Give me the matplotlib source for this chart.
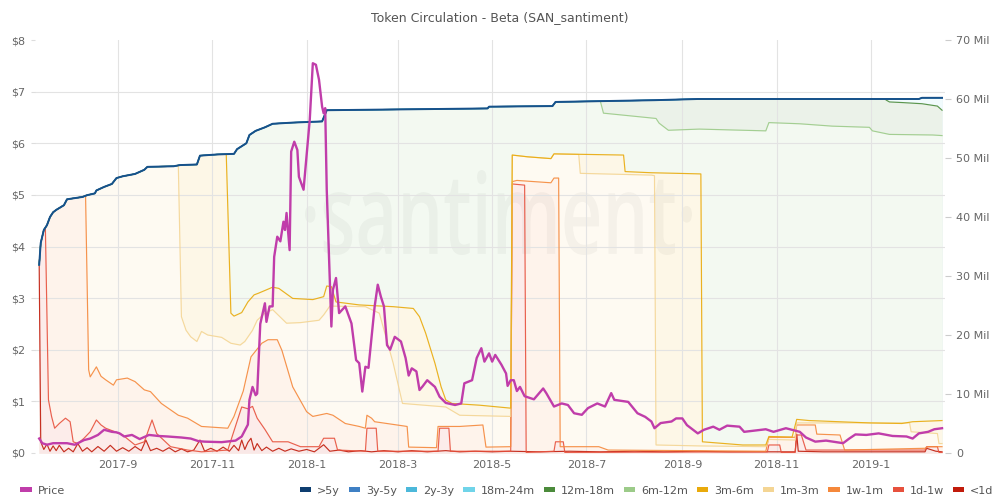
import matplotlib
matplotlib.use('Agg')
import matplotlib.pyplot as plt
import matplotlib.dates as mdates
import matplotlib.ticker as mticker
import matplotlib.transforms as mtransforms
from matplotlib.patches import Patch, PathPatch
from matplotlib.textpath import TextPath
from matplotlib.font_manager import FontProperties
from matplotlib.colors import to_rgb
import numpy as np
import pandas as pd

# ---------------- data ----------------
# total circulation (>5y, 3y-5y, 2y-3y, 18m-24m all equal this), in millions
total_dates = ['2017-07-12', '2017-07-13', '2017-07-15', '2017-07-17', '2017-07-19', '2017-07-21',
               '2017-07-23', '2017-07-28', '2017-07-30', '2017-08-09', '2017-08-12', '2017-08-17',
               '2017-08-18', '2017-08-23', '2017-08-28', '2017-08-31', '2017-09-04', '2017-09-12',
               '2017-09-18', '2017-09-20', '2017-10-07', '2017-10-11', '2017-10-22', '2017-10-24',
               '2017-11-04', '2017-11-15', '2017-11-17', '2017-11-23', '2017-11-25', '2017-11-29',
               '2017-12-05', '2017-12-10', '2017-12-23', '2018-01-11', '2018-01-14', '2018-04-28',
               '2018-04-29', '2018-06-09', '2018-06-11', '2018-08-14', '2018-09-11', '2019-02-01',
               '2019-02-03', '2019-02-16']
total_vals = [31.9, 35.6, 37.8, 38.6, 40.0, 40.8, 41.2, 42.0, 43.0, 43.4, 43.7, 44.0,
              44.5, 45.1, 45.6, 46.6, 46.9, 47.3, 48.0, 48.5, 48.6, 48.8, 48.9, 50.4,
              50.6, 50.7, 51.5, 52.5, 53.9, 54.6, 55.2, 55.8, 56.0, 56.2, 58.1, 58.4,
              58.7, 58.8, 59.5, 59.8, 60.0, 60.0, 60.2, 60.2]

# each narrower window equals the total until it departs from it
m12_18_start = '2019-01-10'
m12_18_dates = ['2019-01-10', '2019-01-11', '2019-01-13', '2019-01-21', '2019-02-03', '2019-02-13', '2019-02-16']
m12_18_vals = [60.0, 59.8, 59.5, 59.4, 59.2, 58.8, 58.1]

m6_12_start = '2018-07-10'
m6_12_dates = ['2018-07-10', '2018-07-12', '2018-07-31', '2018-08-15', '2018-08-17', '2018-08-23',
               '2018-09-12', '2018-10-25', '2018-10-27', '2018-11-16', '2018-12-07', '2018-12-31',
               '2019-01-02', '2019-01-13', '2019-02-10', '2019-02-16']
m6_12_vals = [59.6, 57.6, 57.1, 56.7, 55.9, 54.7, 54.9, 54.6, 56.0, 55.8, 55.4, 55.2,
              54.6, 54.0, 53.9, 53.8]

m3_6_start = '2017-11-10'
m3_6_dates = ['2017-11-10', '2017-11-13', '2017-11-15', '2017-11-20', '2017-11-24', '2017-11-28',
              '2017-12-01', '2017-12-10', '2017-12-14', '2017-12-23', '2018-01-05', '2018-01-12',
              '2018-01-14', '2018-01-17', '2018-01-20', '2018-02-04', '2018-02-26', '2018-03-11',
              '2018-03-15', '2018-03-19', '2018-03-25', '2018-03-29', '2018-04-01', '2018-04-05',
              '2018-04-23', '2018-05-13', '2018-05-14', '2018-05-24', '2018-06-08', '2018-06-10',
              '2018-07-25', '2018-07-26', '2018-08-12', '2018-08-29', '2018-09-13', '2018-09-14',
              '2018-10-10', '2018-10-25', '2018-10-27', '2018-11-11', '2018-11-14', '2018-11-22',
              '2018-12-31', '2019-01-21', '2019-01-28', '2019-02-16']
m3_6_vals = [50.65, 23.7, 23.2, 23.8, 25.6, 26.8, 27.1, 28.1, 27.9, 26.2, 26.0, 26.5,
             28.3, 28.2, 25.6, 25.1, 24.8, 24.5, 23.1, 20.3, 15.2, 11.2, 9.0, 8.4,
             8.1, 7.6, 50.5, 50.2, 49.9, 50.7, 50.5, 47.7, 47.5, 47.4, 47.3, 1.9,
             1.36, 1.36, 2.8, 2.7, 5.7, 5.5, 5.1, 5.0, 5.3, 5.5]

m1_3_start = '2017-10-10'
m1_3_dates = ['2017-10-10', '2017-10-12', '2017-10-15', '2017-10-18', '2017-10-22', '2017-10-25',
              '2017-10-29', '2017-11-07', '2017-11-13', '2017-11-19', '2017-11-22', '2017-11-27',
              '2017-11-30', '2017-12-05', '2017-12-10', '2017-12-19', '2017-12-28', '2018-01-09',
              '2018-01-12', '2018-01-16', '2018-02-08', '2018-02-17', '2018-02-26', '2018-03-04',
              '2018-04-01', '2018-04-10', '2018-05-13', '2018-05-14', '2018-05-24', '2018-06-08',
              '2018-06-10', '2018-06-26', '2018-06-27', '2018-08-12', '2018-08-14', '2018-08-15',
              '2018-09-12', '2018-10-25', '2018-10-27', '2018-11-13', '2018-11-14', '2019-01-26',
              '2019-01-27', '2019-02-13', '2019-02-14', '2019-02-16']
m1_3_vals = [48.7, 23.1, 20.8, 19.7, 18.9, 20.6, 20.0, 19.6, 18.6, 18.3, 18.9, 20.8,
             22.5, 23.7, 24.3, 22.0, 22.1, 22.5, 23.4, 24.9, 24.8, 23.7, 15.2, 8.4,
             7.8, 6.4, 6.2, 50.5, 50.2, 49.9, 50.7, 50.6, 47.4, 47.1, 47.0, 1.36,
             1.2, 1.07, 2.3, 2.2, 5.1, 5.1, 3.6, 3.3, 1.6, 1.6]

w1_m1_start = '2017-08-11'
w1_m1_dates = ['2017-08-11', '2017-08-13', '2017-08-14', '2017-08-18', '2017-08-21', '2017-08-24',
               '2017-08-29', '2017-08-31', '2017-09-07', '2017-09-12', '2017-09-18', '2017-09-22',
               '2017-09-29', '2017-10-10', '2017-10-16', '2017-10-25', '2017-11-11', '2017-11-15',
               '2017-11-21', '2017-11-26', '2017-12-03', '2017-12-07', '2017-12-13', '2017-12-16',
               '2017-12-23', '2018-01-01', '2018-01-05', '2018-01-14', '2018-01-18', '2018-01-26',
               '2018-02-04', '2018-02-08', '2018-02-09', '2018-02-12', '2018-02-14', '2018-03-07',
               '2018-03-08', '2018-03-26', '2018-03-27', '2018-04-10', '2018-04-25', '2018-04-27',
               '2018-05-13', '2018-05-14', '2018-05-17', '2018-06-08', '2018-06-10', '2018-06-13',
               '2018-06-14', '2018-07-09', '2018-07-15', '2018-10-25', '2018-10-27', '2018-11-13',
               '2018-11-14', '2018-11-26', '2018-11-27', '2018-12-12', '2018-12-15', '2019-02-05',
               '2019-02-07', '2019-02-16']
w1_m1_vals = [43.6, 14.1, 12.9, 14.6, 13.0, 12.4, 11.5, 12.4, 12.7, 12.1, 10.7, 10.4,
              8.4, 6.4, 5.9, 4.5, 4.2, 6.2, 10.5, 16.3, 18.6, 19.2, 19.2, 17.4,
              11.2, 7.0, 6.2, 6.7, 6.4, 5.0, 4.5, 4.2, 6.4, 5.9, 5.3, 4.5,
              1.0, 0.9, 4.5, 4.5, 4.75, 1.0, 1.07, 46.0, 46.2, 45.8, 46.6, 46.6,
              1.07, 1.07, 0.5, 0.3, 2.66, 2.66, 4.75, 4.75, 3.2, 3.05, 0.5, 0.8,
              1.07, 1.07]

d1_w1_start = '2017-07-16'
d1_w1_dates = ['2017-07-16', '2017-07-18', '2017-07-20', '2017-07-22', '2017-07-25', '2017-07-29',
               '2017-08-01', '2017-08-03', '2017-08-06', '2017-08-10', '2017-08-14', '2017-08-18',
               '2017-08-21', '2017-08-24', '2017-08-30', '2017-09-04', '2017-09-12', '2017-09-18',
               '2017-09-23', '2017-09-26', '2017-10-05', '2017-10-16', '2017-10-25', '2017-11-11',
               '2017-11-20', '2017-11-24', '2017-11-27', '2017-11-30', '2017-12-05', '2017-12-10',
               '2017-12-20', '2017-12-28', '2018-01-09', '2018-01-12', '2018-01-19', '2018-01-21',
               '2018-02-08', '2018-02-09', '2018-02-15', '2018-02-16', '2018-03-27', '2018-03-28',
               '2018-04-03', '2018-04-04', '2018-05-13', '2018-05-14', '2018-05-22', '2018-05-23',
               '2018-06-10', '2018-06-11', '2018-06-16', '2018-06-17', '2018-10-26', '2018-10-27',
               '2018-11-03', '2018-11-04', '2018-11-13', '2018-11-14', '2018-11-17', '2018-11-20',
               '2019-02-05', '2019-02-06', '2019-02-13', '2019-02-14', '2019-02-16']
d1_w1_vals = [38.2, 9.0, 6.2, 4.2, 5.0, 5.9, 5.3, 1.9, 1.6, 2.5, 3.6, 5.6,
              4.75, 4.2, 3.6, 3.05, 1.36, 1.9, 5.6, 3.3, 1.07, 0.5, 0.2, 0.5,
              7.8, 7.5, 7.9, 5.9, 4.0, 1.9, 1.9, 1.07, 1.07, 2.5, 2.5, 0.5,
              0.3, 4.2, 4.2, 0.3, 0.3, 4.2, 4.2, 0.3, 0.3, 45.6, 45.4, 0.1,
              0.3, 1.9, 1.9, 0.1, 0.2, 1.36, 1.36, 0.1, 0.1, 3.05, 3.05, 0.5,
              0.5, 1.07, 1.07, 0.1, 0.1]

lt1d_dates = ['2017-07-12', '2017-07-13', '2017-07-15', '2017-07-17', '2017-07-19', '2017-07-21',
              '2017-07-23', '2017-07-25', '2017-07-28', '2017-07-31', '2017-08-03', '2017-08-06',
              '2017-08-09', '2017-08-12', '2017-08-15', '2017-08-19', '2017-08-23', '2017-08-27',
              '2017-08-31', '2017-09-04', '2017-09-08', '2017-09-12', '2017-09-16', '2017-09-19',
              '2017-09-22', '2017-09-26', '2017-09-30', '2017-10-04', '2017-10-08', '2017-10-12',
              '2017-10-16', '2017-10-20', '2017-10-24', '2017-10-27', '2017-10-31', '2017-11-04',
              '2017-11-08', '2017-11-12', '2017-11-15', '2017-11-18', '2017-11-20', '2017-11-22',
              '2017-11-24', '2017-11-26', '2017-11-28', '2017-11-30', '2017-12-03', '2017-12-06',
              '2017-12-10', '2017-12-14', '2017-12-18', '2017-12-22', '2017-12-27', '2018-01-01',
              '2018-01-06', '2018-01-12', '2018-01-16', '2018-01-22', '2018-01-28', '2018-02-05',
              '2018-02-12', '2018-02-20', '2018-03-01', '2018-03-10', '2018-03-20', '2018-04-01',
              '2018-04-10', '2018-04-20', '2018-05-01', '2018-05-13', '2018-06-01', '2018-06-20',
              '2018-07-10', '2018-08-01', '2018-08-20', '2018-09-10', '2018-10-01', '2018-10-20',
              '2018-11-13', '2018-11-14', '2018-11-15', '2018-12-01', '2018-12-20', '2019-01-10',
              '2019-02-01', '2019-02-05', '2019-02-06', '2019-02-12', '2019-02-16']
lt1d_vals = [31.9, 1.9, 0.6, 1.5, 0.3, 1.2, 0.4, 1.3, 0.2, 0.8, 0.2, 1.6,
             0.3, 0.9, 0.2, 1.1, 0.3, 1.3, 0.3, 0.9, 0.3, 1.1, 0.4, 2.2,
             0.4, 0.8, 0.3, 0.9, 0.2, 0.7, 0.2, 0.5, 2.2, 0.3, 0.8, 0.3,
             1.0, 0.3, 1.3, 0.4, 2.2, 0.6, 1.8, 2.5, 0.5, 1.6, 0.4, 1.0,
             0.3, 0.8, 0.3, 0.7, 0.3, 0.6, 0.2, 1.4, 0.3, 0.5, 0.2, 0.4,
             0.2, 0.4, 0.2, 0.4, 0.2, 0.4, 0.2, 0.3, 0.2, 0.3, 0.2, 0.3,
             0.2, 0.3, 0.2, 0.3, 0.2, 0.2, 0.2, 3.2, 0.3, 0.2, 0.2, 0.2,
             0.2, 0.2, 0.8, 0.3, 0.2]

price_dates = ['2017-07-12', '2017-07-14', '2017-07-17', '2017-07-21', '2017-07-30', '2017-08-04',
               '2017-08-10', '2017-08-14', '2017-08-19', '2017-08-23', '2017-08-28', '2017-08-31',
               '2017-09-02', '2017-09-05', '2017-09-10', '2017-09-15', '2017-09-21', '2017-09-27',
               '2017-10-03', '2017-10-12', '2017-10-18', '2017-10-23', '2017-10-27', '2017-11-07',
               '2017-11-16', '2017-11-20', '2017-11-24', '2017-11-25', '2017-11-27', '2017-11-29',
               '2017-11-30', '2017-12-02', '2017-12-05', '2017-12-06', '2017-12-08', '2017-12-10',
               '2017-12-11', '2017-12-13', '2017-12-15', '2017-12-17', '2017-12-18', '2017-12-19',
               '2017-12-21', '2017-12-22', '2017-12-24', '2017-12-26', '2017-12-27', '2017-12-30',
               '2018-01-02', '2018-01-03', '2018-01-05', '2018-01-07', '2018-01-09', '2018-01-11',
               '2018-01-12', '2018-01-13', '2018-01-14', '2018-01-17', '2018-01-18', '2018-01-20',
               '2018-01-22', '2018-01-26', '2018-01-30', '2018-02-02', '2018-02-04', '2018-02-06',
               '2018-02-08', '2018-02-10', '2018-02-14', '2018-02-16', '2018-02-18', '2018-02-20',
               '2018-02-22', '2018-02-24', '2018-02-27', '2018-03-03', '2018-03-06', '2018-03-08',
               '2018-03-10', '2018-03-13', '2018-03-15', '2018-03-17', '2018-03-20', '2018-03-25',
               '2018-03-28', '2018-04-01', '2018-04-07', '2018-04-11', '2018-04-13', '2018-04-18',
               '2018-04-21', '2018-04-24', '2018-04-26', '2018-04-29', '2018-05-01', '2018-05-03',
               '2018-05-07', '2018-05-10', '2018-05-11', '2018-05-13', '2018-05-15', '2018-05-17',
               '2018-05-19', '2018-05-22', '2018-05-28', '2018-06-03', '2018-06-05', '2018-06-10',
               '2018-06-15', '2018-06-19', '2018-06-23', '2018-06-28', '2018-07-02', '2018-07-08',
               '2018-07-13', '2018-07-17', '2018-07-19', '2018-07-28', '2018-08-03', '2018-08-08',
               '2018-08-12', '2018-08-14', '2018-08-18', '2018-08-25', '2018-08-28', '2018-09-01',
               '2018-09-04', '2018-09-08', '2018-09-11', '2018-09-15', '2018-09-21', '2018-09-25',
               '2018-09-30', '2018-10-08', '2018-10-11', '2018-10-25', '2018-10-30', '2018-11-07',
               '2018-11-16', '2018-11-20', '2018-11-26', '2018-12-03', '2018-12-14', '2018-12-18',
               '2018-12-22', '2018-12-29', '2019-01-06', '2019-01-15', '2019-01-24', '2019-01-28',
               '2019-02-01', '2019-02-07', '2019-02-11', '2019-02-16']
price_vals = [0.28, 0.19, 0.16, 0.19, 0.19, 0.16, 0.25, 0.28, 0.35, 0.45, 0.41, 0.40,
              0.38, 0.32, 0.35, 0.27, 0.35, 0.33, 0.32, 0.30, 0.28, 0.23, 0.22, 0.21,
              0.24, 0.32, 0.55, 1.03, 1.28, 1.12, 1.15, 2.50, 2.90, 2.54, 2.84, 2.84,
              3.80, 4.19, 4.10, 4.48, 4.32, 4.65, 3.93, 5.84, 6.03, 5.87, 5.35, 5.10,
              6.13, 6.45, 7.55, 7.52, 7.23, 6.71, 6.58, 6.68, 5.10, 2.45, 3.16, 3.39,
              2.71, 2.84, 2.51, 1.80, 1.74, 1.19, 1.67, 1.65, 2.84, 3.26, 3.03, 2.84,
              2.09, 2.00, 2.25, 2.16, 1.84, 1.50, 1.64, 1.58, 1.22, 1.29, 1.41, 1.28,
              1.09, 0.97, 0.93, 0.96, 1.35, 1.41, 1.84, 2.03, 1.77, 1.93, 1.77, 1.90,
              1.71, 1.54, 1.30, 1.41, 1.41, 1.20, 1.28, 1.10, 1.04, 1.25, 1.16, 0.90,
              0.96, 0.93, 0.77, 0.74, 0.87, 0.96, 0.90, 1.16, 1.03, 0.99, 0.77, 0.70,
              0.61, 0.48, 0.58, 0.61, 0.67, 0.67, 0.54, 0.45, 0.38, 0.45, 0.51, 0.45,
              0.53, 0.51, 0.41, 0.46, 0.41, 0.48, 0.41, 0.30, 0.22, 0.24, 0.19, 0.28,
              0.36, 0.35, 0.38, 0.33, 0.32, 0.28, 0.38, 0.41, 0.46, 0.48]

labels = ['>5y', '3y-5y', '2y-3y', '18m-24m', '12m-18m', '6m-12m', '3m-6m', '1m-3m',
          '1w-1m', '1d-1w', '<1d']
colors = ['#0e3e70', '#3f80c4', '#4cb8da', '#70d4e9', '#4b8b3b', '#9ccb89', '#e9aa0b',
          '#f4d594', '#f5883b', '#e7513d', '#c11b0b']
fill_alpha = [0.10, 0.10, 0.10, 0.10, 0.11, 0.12, 0.10, 0.12, 0.10, 0.11, 0.10]
price_color = '#c03daa'

# ---------------- build series ----------------
td = pd.to_datetime(total_dates)
tv = np.array(total_vals, dtype=float)


def follow(start, own_d, own_v):
    s = pd.Timestamp(start)
    keep = td < s
    d = list(td[keep]) + list(pd.to_datetime(own_d))
    v = list(tv[keep]) + list(own_v)
    return pd.DatetimeIndex(d), np.array(v, dtype=float)


series = [
    (td, tv), (td, tv), (td, tv), (td, tv),
    follow(m12_18_start, m12_18_dates, m12_18_vals),
    follow(m6_12_start, m6_12_dates, m6_12_vals),
    follow(m3_6_start, m3_6_dates, m3_6_vals),
    follow(m1_3_start, m1_3_dates, m1_3_vals),
    follow(w1_m1_start, w1_m1_dates, w1_m1_vals),
    follow(d1_w1_start, d1_w1_dates, d1_w1_vals),
    (pd.to_datetime(lt1d_dates), np.array(lt1d_vals, dtype=float)),
]

# ---------------- figure ----------------
fig = plt.figure(figsize=(10, 5), dpi=100)
ax = fig.add_axes([0.035, 0.094, 0.91, 0.826])
ax2 = ax.twinx()

for i, ((d, v), c, a) in enumerate(zip(series, colors, fill_alpha)):
    rgb = np.array(to_rgb(c))
    fc = 1 - a * (1 - rgb)
    ax.fill_between(d, 0, v, color=fc, lw=0, zorder=1 + i * 0.01)

line_colors = ['#17518a'] + colors[1:]
for i in reversed(range(len(series))):
    d, v = series[i]
    lw = 1.4 if i == 0 else 0.85
    ax.plot(d, v, color=line_colors[i], lw=lw, alpha=0.9 if i else 1.0, zorder=3)

ax2.plot(pd.to_datetime(price_dates), price_vals, color=price_color, lw=1.7, zorder=5)

# watermark
tp = TextPath((0, 0), '\u00b7santiment\u00b7', size=1,
              prop=FontProperties(family=['Open Sans', 'DejaVu Sans'], weight='semibold'))
bb = tp.get_extents()
sx = 387 / bb.width
sy = 85 / bb.height
tr = mtransforms.Affine2D().scale(sx, sy).translate(305 - bb.x0 * sx, 245 - bb.y0 * sy)
ax.add_patch(PathPatch(tp, transform=tr, fc=(0, 0, 0, 0.035), ec='none', zorder=2))

# axes limits
ax.set_xlim(pd.Timestamp('2017-07-09 07:00'), pd.Timestamp('2019-02-17 22:00'))
ax.set_ylim(0, 70)
ax2.set_ylim(0, 8)

for a_ in (ax, ax2):
    for s in a_.spines.values():
        s.set_visible(False)
ax2.patch.set_visible(False)

# x axis
ax.xaxis.set_major_locator(mdates.MonthLocator(bymonth=[1, 3, 5, 7, 9, 11]))
ax.xaxis.set_major_formatter(mticker.FuncFormatter(
    lambda x, pos: f"{mdates.num2date(x).year}-{mdates.num2date(x).month}"))
ax.tick_params(axis='x', length=0, pad=5, labelsize=8, labelcolor='#666666')
ax.grid(True, axis='x', color='#e3e3e3', lw=0.8)

# right axis (circulation)
ax.yaxis.tick_right()
ax.yaxis.set_major_locator(mticker.MultipleLocator(10))
ax.yaxis.set_major_formatter(mticker.FuncFormatter(
    lambda v, pos: '0' if v == 0 else f'{int(v)} Mil'))
ax.yaxis.set_minor_locator(mticker.FixedLocator(np.arange(0, 70.01, 70 / 8)))
ax.tick_params(axis='y', which='major', length=4, color='#cccccc', pad=4,
               labelsize=8, labelcolor='#666666')
ax.tick_params(axis='y', which='minor', length=0)
ax.grid(True, axis='y', which='minor', color='#e3e3e3', lw=0.8)
ax.set_axisbelow(False)

# left axis (price)
ax2.yaxis.tick_left()
ax2.yaxis.set_major_locator(mticker.MultipleLocator(1))
ax2.yaxis.set_major_formatter(mticker.FuncFormatter(lambda v, pos: f'${int(v)}'))
ax2.tick_params(axis='y', length=3, color='#dddddd', pad=4, labelsize=8, labelcolor='#666666')

fig.text(0.5, 0.964, 'Token Circulation - Beta (SAN_santiment)', ha='center', va='center',
         fontsize=9, color='#555555')

# legends
h_price = [Patch(facecolor=price_color, edgecolor='none')]
leg1 = fig.legend(h_price, ['Price'], loc='lower left', bbox_to_anchor=(0.016, 0.0),
                  frameon=False, fontsize=8, handlelength=1.0, handleheight=0.4,
                  handletextpad=0.55, borderaxespad=0)
for t in leg1.get_texts():
    t.set_color('#555555')
h_series = [Patch(facecolor=c, edgecolor='none') for c in colors]
leg2 = fig.legend(h_series, labels, loc='lower right', bbox_to_anchor=(0.998, 0.0), ncol=11,
                  frameon=False, fontsize=8, handlelength=1.0, handleheight=0.4,
                  handletextpad=0.55, columnspacing=0.8, borderaxespad=0)
for t in leg2.get_texts():
    t.set_color('#555555')

fig.savefig('out.png', dpi=100)
